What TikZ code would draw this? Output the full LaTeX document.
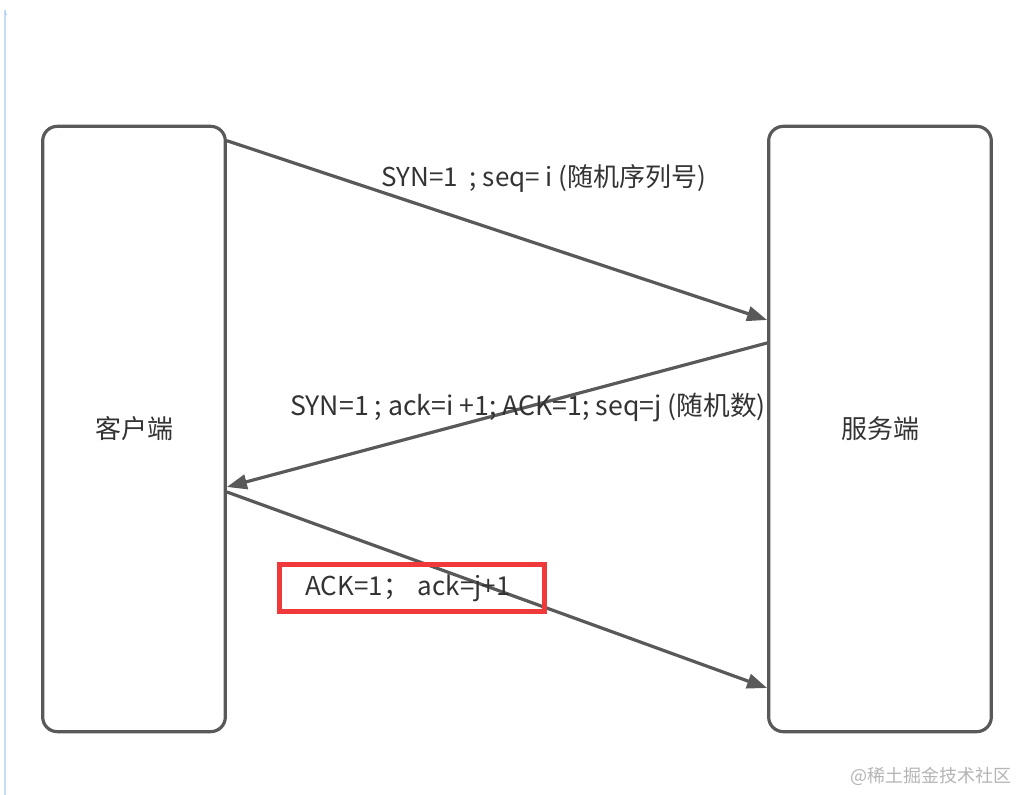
\documentclass[tikz,border=0pt]{standalone}
\usepackage{fontspec}
\setmainfont{Noto Sans CJK SC}
\usepackage{xcolor}
\usepackage{tikz}
\usetikzlibrary{
  arrows.meta
}
\definecolor{linegray}{HTML}{595959}
\definecolor{textgray}{HTML}{333333}
\definecolor{markred}{HTML}{F0393B}
\definecolor{frameblue}{HTML}{A9CBF2}
\definecolor{markgray}{HTML}{B4B4B4}

\begin{document}
\begin{tikzpicture}[x=0.75pt, y=-0.75pt,
  host/.style={draw=linegray, line width=2.4pt, rounded corners=11pt,
    text=textgray, font=\fontsize{19.5}{23}\selectfont},
  msg/.style={draw=linegray, line width=2.4pt,
    -{Triangle[length=15pt,width=11pt]}},
  msgtext/.style={text=textgray, font=\fontsize{19.5}{23}\selectfont, inner sep=0pt}
]
\useasboundingbox (0,0) rectangle (1022,795);

% Page frame (left edge)
\draw[frameblue, line width=0.8pt] (5,795) -- (5,10) arc[start angle=180, end angle=150, radius=10];

% Client and server
\node[host, minimum width=137pt, minimum height=454pt] (client) at (134,429) {客户端};
\node[host, minimum width=167pt, minimum height=454pt] (server) at (880,429) {服务端};

% Handshake messages
\draw[msg] ([yshift=-12pt]client.north east) -- ([yshift=81.75pt]server.west);
\draw[msg] ([yshift=64.5pt]server.west) -- ([yshift=-43.5pt]client.east);
\draw[msg] ([yshift=-47.25pt]client.east) -- ([yshift=-194.25pt]server.west);

% Labels
\node[msgtext] (syn) at (544,178) {SYN=1\ \ ; seq=\ i (随机序列号)};
\node[msgtext, font=\fontsize{20}{23}\selectfont] (synack) at (528,408) {SYN=1 ; ack=i +1; ACK=1; seq=j (随机数)};
\node[msgtext, draw=markred, line width=3.75pt, minimum width=199pt, minimum height=35pt,
  text width=160pt, align=left] (ack) at (412,588) {ACK=1；\ ack=j+1};

% Watermark
\node[text=markgray, font=\fontsize{13.5}{16}\selectfont, anchor=east] (mark) at (1016,776) {@稀土掘金技术社区};

\end{tikzpicture}
\end{document}
